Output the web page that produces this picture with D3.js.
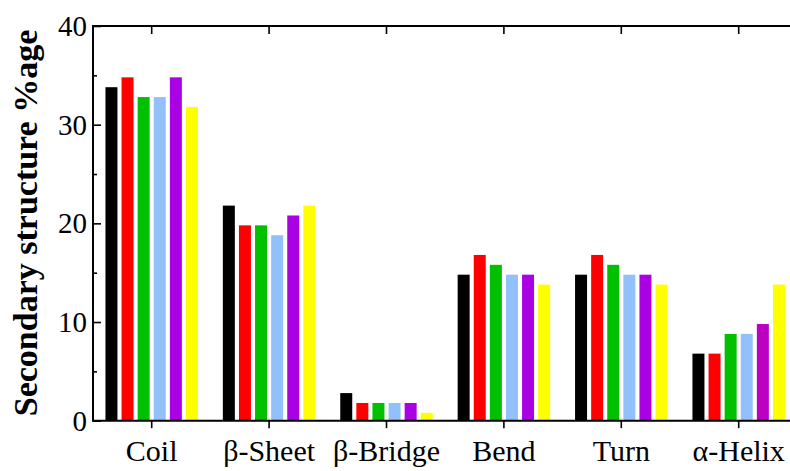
<!DOCTYPE html>
<html>
<head>
<meta charset="utf-8">
<script src="https://cdn.jsdelivr.net/npm/d3@7/dist/d3.min.js"></script>
<style>
  html, body { margin: 0; padding: 0; background: #fff; }
  svg { display: block; }
</style>
</head>
<body>
<svg id="chart" width="790" height="471"></svg>
<script>
// Secondary structure composition per structure class, six systems each
const categories = ["Coil", "β-Sheet", "β-Bridge", "Bend", "Turn", "α-Helix"];
const seriesNames = ["s1", "s2", "s3", "s4", "s5", "s6"];
const seriesColors = ["#000000", "#ff0000", "#00c000", "#92c0fa", "#aa00e4", "#ffff00"];
const s1 = [34, 22, 3, 15, 15, 7];
const s2 = [35, 20, 2, 17, 17, 7];
const s3 = [33, 20, 2, 16, 16, 9];
const s4 = [33, 19, 2, 15, 15, 9];
const s5 = [35, 21, 2, 15, 15, 10];
const s6 = [32, 22, 1, 14, 14, 14];
const yTicks = [0, 10, 20, 30, 40];
const yMinorTicks = [5, 15, 25, 35];

const seriesValues = [s1, s2, s3, s4, s5, s6];
// the α-Helix bar of the fifth series is drawn in a redder violet
const colorOverride = { "s5|α-Helix": "#bb00c2" };

const svg = d3.select("#chart");
const plotLeft = 93, plotTop = 26, plotBottom = 420.7, plotRight = 797.4;
// bars are outlined in white, which hides their top edge by a couple of pixels
const barOutline = 2;

const x0 = d3.scaleBand().domain(categories).range([plotLeft, plotRight]).padding(0);
const x1 = d3.scaleBand().domain(seriesNames).range([-48.3, 48.3])
  .paddingInner(0.255).paddingOuter(0.1275);
const y = d3.scaleLinear().domain([0, 40]).range([plotBottom, plotTop]);

const font = "'Liberation Serif', 'Times New Roman', serif";

// bars
const rows = [];
categories.forEach((c, ci) => {
  seriesNames.forEach((s, si) => {
    rows.push({ cat: c, series: s, value: seriesValues[si][ci],
      color: colorOverride[s + "|" + c] || seriesColors[si] });
  });
});
svg.append("g").selectAll("rect").data(rows).join("rect")
  .attr("x", d => x0(d.cat) + x0.bandwidth() / 2 + x1(d.series))
  .attr("y", d => y(d.value) + barOutline)
  .attr("width", x1.bandwidth())
  .attr("height", d => y(0) - y(d.value) - barOutline)
  .attr("fill", d => d.color);

// left axis: major ticks inward, labelled
const yAxis = d3.axisRight(y).tickValues(yTicks).tickSize(8).tickFormat("");
const gy = svg.append("g").attr("transform", `translate(${plotLeft},0)`).call(yAxis);
gy.select(".domain").remove();
gy.selectAll(".tick line").attr("stroke", "#000").attr("stroke-width", 1.6);
const yMinor = d3.axisRight(y).tickValues(yMinorTicks).tickSize(4).tickFormat("");
const gym = svg.append("g").attr("transform", `translate(${plotLeft},0)`).call(yMinor);
gym.select(".domain").remove();
gym.selectAll(".tick line").attr("stroke", "#000").attr("stroke-width", 1.6);
svg.append("g").selectAll("text").data(yTicks).join("text")
  .attr("x", plotLeft - 6)
  .attr("y", d => y(d))
  .attr("dy", "0.34em")
  .attr("text-anchor", "end")
  .attr("font-family", font)
  .attr("font-size", 29)
  .attr("fill", "#000")
  .text(d => d);

// bottom axis: ticks outward at category centres
const xAxisB = d3.axisBottom(x0).tickSize(7.5).tickFormat("");
const gb = svg.append("g").attr("transform", `translate(0,${plotBottom})`).call(xAxisB);
gb.select(".domain").remove();
gb.selectAll(".tick line").attr("stroke", "#000").attr("stroke-width", 1.6);
svg.append("g").selectAll("text").data(categories).join("text")
  .attr("x", d => x0(d) + x0.bandwidth() / 2)
  .attr("y", 461)
  .attr("text-anchor", "middle")
  .attr("font-family", font)
  .attr("font-size", 30)
  .attr("fill", "#000")
  .text(d => d);

// top axis: ticks inward
const xAxisT = d3.axisBottom(x0).tickSize(8).tickFormat("");
const gt = svg.append("g").attr("transform", `translate(0,${plotTop})`).call(xAxisT);
gt.select(".domain").remove();
gt.selectAll(".tick line").attr("stroke", "#000").attr("stroke-width", 1.6);

// frame lines
svg.append("line").attr("x1", plotLeft).attr("x2", plotRight).attr("y1", plotTop).attr("y2", plotTop)
  .attr("stroke", "#000").attr("stroke-width", 2);
svg.append("line").attr("x1", plotLeft).attr("x2", plotRight).attr("y1", plotBottom).attr("y2", plotBottom)
  .attr("stroke", "#000").attr("stroke-width", 2);
svg.append("line").attr("x1", plotLeft).attr("x2", plotLeft).attr("y1", plotTop - 1).attr("y2", plotBottom + 1)
  .attr("stroke", "#000").attr("stroke-width", 2);
svg.append("line").attr("x1", plotRight).attr("x2", plotRight).attr("y1", plotTop - 1).attr("y2", plotBottom + 1)
  .attr("stroke", "#000").attr("stroke-width", 2);

// y-axis title
svg.append("text")
  .attr("transform", "translate(37,223) rotate(-90)")
  .attr("text-anchor", "middle")
  .attr("font-family", font)
  .attr("font-weight", "bold")
  .attr("font-size", 34)
  .attr("fill", "#000")
  .text("Secondary structure %age");
</script>
</body>
</html>
